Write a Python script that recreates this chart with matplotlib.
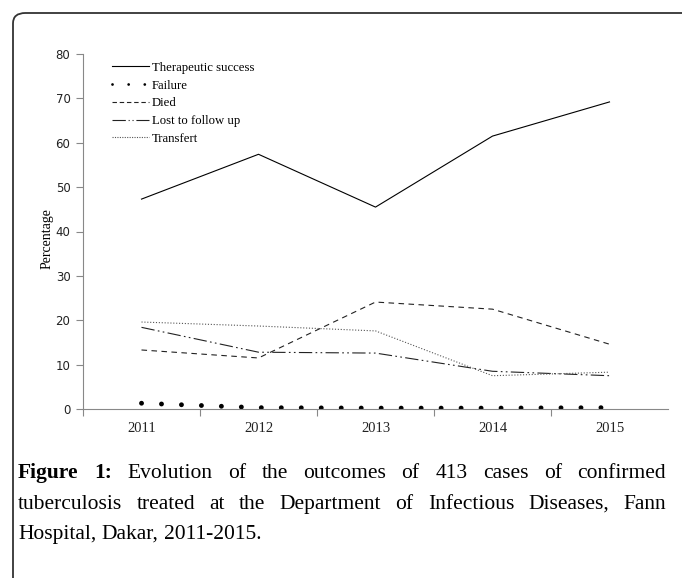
import matplotlib.pyplot as plt
from matplotlib.lines import Line2D
from matplotlib.patches import FancyBboxPatch

# data
years = ['2011', '2012', '2013', '2014', '2015']
success = [47.3, 57.4, 45.5, 61.5, 69.2]
failure = [1.3, 0.3, 0.2, 0.2, 0.3]
died = [13.3, 11.5, 24.1, 22.5, 14.6]
lost = [18.4, 12.8, 12.6, 8.5, 7.5]
transfert = [19.6, 18.7, 17.6, 7.5, 8.3]
labels = ['Therapeutic success', 'Failure', 'Died', 'Lost to follow up', 'Transfert']

caption_lines = [
    [('Figure', 'bold'), ('1:', 'bold'), ('Evolution', 'normal'), ('of', 'normal'), ('the', 'normal'),
     ('outcomes', 'normal'), ('of', 'normal'), ('413', 'normal'), ('cases', 'normal'), ('of', 'normal'),
     ('confirmed', 'normal')],
    [(w, 'normal') for w in 'tuberculosis treated at the Department of Infectious Diseases, Fann'.split()],
    [(w, 'normal') for w in 'Hospital, Dakar, 2011-2015.'.split()],
]

W, H = 682, 578
fig = plt.figure(figsize=(W / 100, H / 100), dpi=100)

# rounded frame, open to the right and bottom
frame = FancyBboxPatch((13 / W, -0.2), 1.2, (H - 13) / H + 0.2,
                       boxstyle='round,pad=0,rounding_size=0.018',
                       transform=fig.transFigure, fill=False, lw=1.3, ec='#333333')
fig.patches.append(frame)

ax = fig.add_axes([83 / W, (H - 409) / H, 585 / W, 355 / H])
x = list(range(len(years)))

lw = 0.8
ax.plot(x, success, color='black', lw=lw)
ax.plot(x, failure, color='black', lw=3.5, dashes=(0.01, 4.1), dash_capstyle='round')
ax.plot(x, died, color='#222222', lw=lw, dashes=(5, 4))
ax.plot(x, lost, color='#222222', lw=lw, dashes=(12, 3, 1.5, 3, 1.5, 3))
ax.plot(x, transfert, color='#555555', lw=lw, dashes=(1, 1.6))

ax.set_xlim(-0.5, 4.5)
ax.set_ylim(0, 80)
ax.set_yticks(range(0, 81, 10))
ax.set_xticks(x)
ax.set_xticklabels(years)
ax.set_xticks([-0.5, 0.5, 1.5, 2.5, 3.5], minor=True)

for t in ax.get_xticklabels():
    t.set_family('Liberation Serif')
    t.set_fontsize(10.5)
    t.set_color('#222222')
for t in ax.get_yticklabels():
    t.set_family(['Liberation Sans Narrow', 'DejaVu Sans'])
    t.set_fontsize(8.5)
    t.set_color('#222222')

ax.tick_params(axis='x', which='major', length=0, pad=9)
ax.tick_params(axis='x', which='minor', length=5, color='#888888', width=0.8)
ax.tick_params(axis='y', length=5, color='#888888', width=0.8, pad=4)
for side in ['top', 'right']:
    ax.spines[side].set_visible(False)
for side in ['left', 'bottom']:
    ax.spines[side].set_color('#888888')
    ax.spines[side].set_linewidth(0.8)

ax.set_ylabel('Percentage', family='Liberation Serif', fontsize=10)
ax.yaxis.set_label_coords(-0.05, 0.479)

handles = [
    Line2D([], [], color='black', lw=lw),
    Line2D([], [], color='black', lw=2.0, dashes=(0.01, 5.8), dash_capstyle='round'),
    Line2D([], [], color='#222222', lw=lw, dashes=(4, 2.5)),
    Line2D([], [], color='#222222', lw=lw, dashes=(12, 2.5, 1, 2.5, 1, 2.5)),
    Line2D([], [], color='#555555', lw=lw, dashes=(1, 1.2)),
]
ax.legend(handles, labels, loc='upper left', bbox_to_anchor=(0.05, 0.978),
          frameon=False, borderpad=0, borderaxespad=0, handlelength=2.85,
          handletextpad=0.25, labelspacing=0.45,
          prop={'family': 'Liberation Serif', 'size': 9.2})

# justified caption
fig.canvas.draw()
renderer = fig.canvas.get_renderer()
cap_size = 15.5
left_px, right_px = 18, 666
baselines = [478, 509, 539]


def text_width(s, weight='normal'):
    t = fig.text(0, 0, s, family='Liberation Serif', fontsize=cap_size, weight=weight)
    w = t.get_window_extent(renderer).width
    t.remove()
    return w


sp = text_width('a b') - text_width('ab')
for i, words in enumerate(caption_lines):
    widths = [text_width(w, wt) for w, wt in words]
    if i < len(caption_lines) - 1:
        gap = (right_px - left_px - sum(widths)) / (len(words) - 1)
    else:
        gap = sp
    xpos = left_px
    for (w, wt), wd in zip(words, widths):
        fig.text(xpos / W, (H - baselines[i]) / H, w, family='Liberation Serif',
                 fontsize=cap_size, weight=wt, va='baseline', ha='left')
        xpos += wd + gap

fig.savefig('out.png', dpi=100)
